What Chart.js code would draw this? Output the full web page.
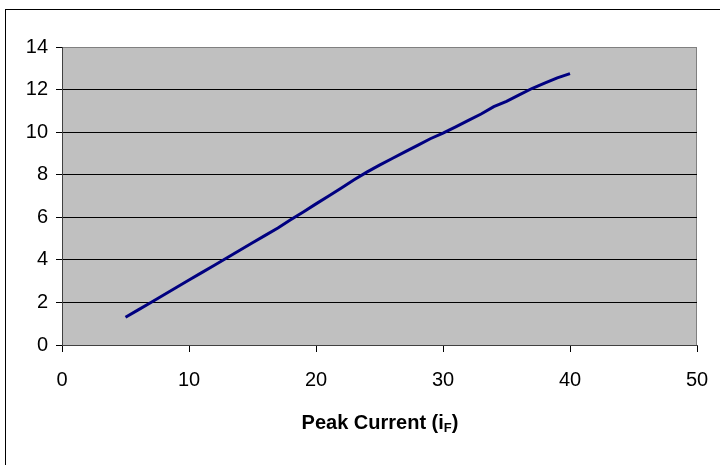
<!DOCTYPE html>
<html>
<head>
<meta charset="utf-8">
<script src="https://cdn.jsdelivr.net/npm/chart.js@4"></script>
<style>
  html, body { margin: 0; padding: 0; background: #fff; }
  #wrap { position: relative; width: 720px; height: 465px; overflow: hidden; }
  #frame { position: absolute; left: 5px; top: 9px; width: 800px; height: 600px; border: 1px solid #000; }
  #chart { position: absolute; left: 0; top: 0; }
  #xtitle {
    position: absolute; left: 260px; width: 240px; top: 410px; text-align: center;
    font-family: 'Liberation Sans Narrow', 'Arial Narrow', 'Liberation Sans', Arial, sans-serif;
    font-weight: bold; font-size: 20px; color: #000; line-height: 24px;
  }
  #xtitle sub { font-size: 13px; vertical-align: -3px; }
</style>
</head>
<body>
<div id="wrap">
  <div id="frame"></div>
  <canvas id="chart" width="720" height="465"></canvas>
  <div id="xtitle">Peak Current (i<sub>F</sub>)</div>
</div>
<script>
// peak current (x) and measured value (y)
const peakCurrent = [5, 6, 7, 8, 9, 10, 11, 12, 13, 14, 15, 16, 17, 18, 19, 20, 21, 22,
  23, 24, 25, 26, 27, 28, 29, 30, 31, 32, 33, 34, 35, 36, 37, 38, 39, 40];
const values = [1.3, 1.65, 2.0, 2.35, 2.7, 3.05, 3.4, 3.75, 4.1, 4.45, 4.8, 5.15, 5.5, 5.88,
  6.25, 6.63, 7.0, 7.38, 7.76, 8.12, 8.45, 8.76, 9.07, 9.38, 9.69, 9.95, 10.25, 10.55,
  10.85, 11.2, 11.45, 11.75, 12.05, 12.3, 12.55, 12.75];
const xTicks = [0, 10, 20, 30, 40, 50];
const yTicks = [0, 2, 4, 6, 8, 10, 12, 14];

const FONT = "'Liberation Sans Narrow', 'Arial Narrow', 'Liberation Sans', Arial, sans-serif";

// gray plot area with thin border
const plotBg = {
  id: 'plotBg',
  beforeDraw(chart) {
    const { ctx, chartArea: a } = chart;
    ctx.save();
    ctx.fillStyle = '#c0c0c0';
    ctx.fillRect(a.left, a.top, a.right - a.left, a.bottom - a.top);
    ctx.strokeStyle = '#808080';
    ctx.lineWidth = 1;
    ctx.strokeRect(a.left + 0.5, a.top + 0.5, a.right - a.left - 1, a.bottom - a.top);
    ctx.restore();
  },
};

new Chart(document.getElementById('chart'), {
  type: 'line',
  data: {
    datasets: [{
      data: peakCurrent.map((x, i) => ({ x, y: values[i] })),
      borderColor: '#000080',
      borderWidth: 3,
      pointRadius: 0,
      tension: 0,
      fill: false,
    }],
  },
  options: {
    responsive: false,
    animation: false,
    devicePixelRatio: 1,
    layout: { padding: { left: 0, top: 47, right: 23, bottom: 0 } },
    plugins: { legend: { display: false }, tooltip: { enabled: false } },
    scales: {
      x: {
        type: 'linear',
        min: 0, max: 50,
        afterBuildTicks(s) { s.ticks = xTicks.map(v => ({ value: v })); },
        afterFit(s) { s.height = 120; s.paddingLeft = 0; s.paddingRight = 0; },
        grid: { drawOnChartArea: false, drawTicks: true, tickLength: 7, color: '#000' },
        border: { color: '#404040', width: 1 },
        ticks: { color: '#000', font: { family: FONT, size: 20 }, padding: 16, maxRotation: 0 },
      },
      y: {
        min: 0, max: 14,
        afterBuildTicks(s) { s.ticks = yTicks.map(v => ({ value: v })); },
        afterFit(s) { s.width = 62; s.paddingTop = 0; s.paddingBottom = 0; },
        grid: {
          color: c => (c.tick && c.tick.value === 14 ? '#808080' : '#000'),
          tickColor: '#000',
          tickLength: 6,
        },
        border: { color: '#404040', width: 1 },
        ticks: { color: '#000', font: { family: FONT, size: 20 }, padding: 8 },
      },
    },
  },
  plugins: [plotBg],
});
</script>
</body>
</html>
